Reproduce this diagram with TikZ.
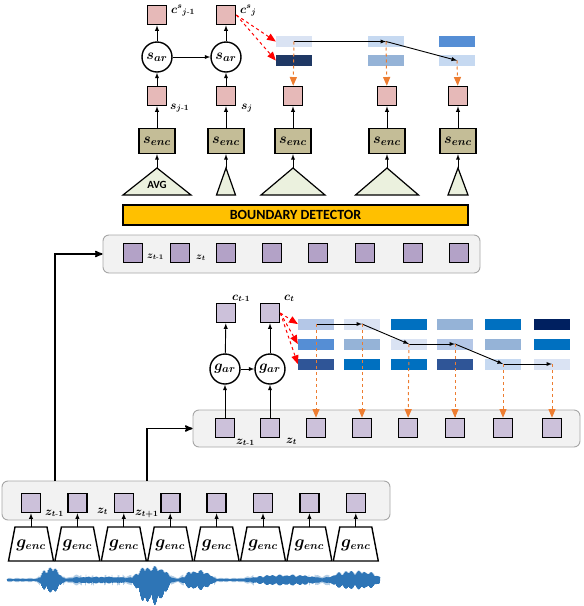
\documentclass[tikz,border=0pt]{standalone}
\usepackage{amsmath}
\usepackage{bm}
\usepackage{fontspec}
\newfontfamily\calfont{Carlito}
\usetikzlibrary{positioning, arrows, shapes.geometric}
\definecolor{rosy}{HTML}{E6B9B8}
\definecolor{lavdark}{HTML}{B3A2C7}
\definecolor{lavlight}{HTML}{CCC1DA}
\definecolor{khaki}{HTML}{C4BD97}
\definecolor{trifill}{HTML}{EBF1DE}
\definecolor{amber}{HTML}{FFC000}
\definecolor{panelgray}{HTML}{F2F2F2}
\definecolor{paneledge}{HTML}{A6A6A6}
\definecolor{dashorange}{HTML}{ED7D31}
\definecolor{wavecol}{HTML}{2E75B6}
\definecolor{bA}{HTML}{DAE3F3} % lightest blue
\definecolor{bB}{HTML}{C6D9F1}
\definecolor{bC}{HTML}{B4C7E7}
\definecolor{bD}{HTML}{95B3D7}
\definecolor{bE}{HTML}{558ED5}
\definecolor{bF}{HTML}{0070C0}
\definecolor{bG}{HTML}{2F5597}
\definecolor{bH}{HTML}{1F3864}
\definecolor{bI}{HTML}{002060} % darkest blue
\tikzset{
sq/.style={draw, line width=1.6pt, minimum size=19pt, inner sep=0pt}, % small state squares
panel/.style={draw=paneledge, fill=panelgray, rounded corners=6pt, line width=0.9pt},
encbox/.style={draw, line width=1.4pt, fill=khaki, minimum width=36pt, minimum height=25pt, inner sep=0pt, font=\fontsize{15}{15}\selectfont},
arnode/.style={circle, draw, line width=1.4pt, fill=white, minimum size=30pt, inner sep=0pt, font=\fontsize{15}{15}\selectfont},
genc/.style={draw, line width=1.4pt, fill=white, line join=miter}, % encoder trapezium
gtext/.style={inner sep=0pt, font=\fontsize{16}{16}\selectfont},
bar/.style={minimum width=36pt, minimum height=11pt, inner sep=0pt},
tri/.style={draw, line width=1.2pt, fill=trifill, line join=miter},
conn/.style={-latex, line width=0.9pt}, % plain connectors
bigarrow/.style={->, >=stealth', line width=1.6pt},
odash/.style={-triangle 45, dashed, draw=dashorange, line width=1pt},
rdash/.style={-triangle 45, dashed, draw=red, line width=1pt},
lbl/.style={inner sep=0pt, anchor=base west, font=\fontsize{12}{12}\selectfont},
declare function={
G(\q,\m,\w)=exp(-1*pow(min(abs((\q-\m)/\w),3),4));
envu(\q)=1+12*G(\q,51,10)+2.5*G(\q,100,28)+13*G(\q,152,17)+9*G(\q,198,14)+4.5*G(\q,285,32)+8.5*G(\q,355,24);
envl(\q)=envu(\q)+11*G(\q,152,14);
jit(\n)=0.5+0.3*abs(sin(\n*13.7))+0.2*abs(cos(\n*7.9));
},
}

\begin{document}
\begin{tikzpicture}[x=1pt, y=-1pt]
\useasboundingbox (0,0) rectangle (584,606);

% segment level
\node[draw, line width=1.2pt, fill=amber, minimum width=345pt, minimum height=20pt, inner sep=0pt,
      font=\calfont\bfseries\fontsize{14}{14}\selectfont] (bd) at (295.5,215) {BOUNDARY DETECTOR};
\foreach \x/\w [count=\i] in {157/68, 226/19, 293/64, 387/63, 458/20} {
  \draw[tri] (\x-\w/2,195) -- (\x,168) coordinate (t\i) -- (\x+\w/2,195) -- cycle;
  \node[encbox] (e\i) at (\x,141) {$\bm{s_{enc}}$};
  \node[sq, fill=rosy] (s\i) at (\x,96) {};
  \draw[conn] (t\i) -- (e\i);
  \draw[conn] (e\i) -- (s\i);
}
\node[font=\calfont\bfseries\fontsize{11}{11}\selectfont] (avg) at (157,185) {AVG};
\node[arnode] (sa1) at (157,57) {$\bm{s_{ar}}$};
\node[arnode] (sa2) at (226,57) {$\bm{s_{ar}}$};
\node[sq, fill=rosy] (cs1) at (157,15) {};
\node[sq, fill=rosy] (cs2) at (226,15) {};
\draw[conn] (s1) -- (sa1);
\draw[conn] (sa1) -- (cs1);
\draw[conn] (s2) -- (sa2);
\draw[conn] (sa2) -- (cs2);
\draw[conn] (sa1) -- (sa2);
\node[lbl] at (171,13) {$\bm{c^{s}{}_{j\text{-}1}}$};
\node[lbl] at (240,13) {$\bm{c^{s}{}_{j}}$};
\node[lbl] at (170,109) {$\bm{s_{j\text{-}1}}$};
\node[lbl] at (241,109) {$\bm{s_{j}}$};

\foreach \x/\ca/\cb [count=\i] in {294/bA/bH, 386/bB/bD, 457/bE/bB} {
  \node[bar, fill=\ca] (ua\i) at (\x,41.5) {};
  \node[bar, fill=\cb] (ub\i) at (\x,60.5) {};
}
\draw[conn] (ua1.center) -- (ua2.center);
\draw[conn] (ua2.center) -- (ub3.center);
\draw[odash] (ua1.center) -- (s3);
\draw[odash] (ua2.center) -- (s4);
\draw[odash] (ub3.center) -- (s5);
\draw[rdash] (cs2.east) -- (ua1.west);
\draw[rdash] (cs2.east) -- (ub1.west);

% upper frame row
\node[panel, minimum width=377pt, minimum height=38pt] (zup) at (291.5,254) {};
\foreach \x [count=\i] in {133,180,226,272,318,365,413,459}
  \node[sq, fill=lavdark] (zu\i) at (\x,253) {};
\node[lbl, font=\fontsize{10}{10}\selectfont] at (147,258) {$\bm{z_{t\text{-}1}}$};
\node[lbl, font=\fontsize{10}{10}\selectfont] at (196,259) {$\bm{z_{t}}$};

% frame level
\node[panel, minimum width=387pt, minimum height=37pt] (zmid) at (386.5,428.5) {};
\foreach \x [count=\i] in {225,270,316,362,408,455,503,552}
  \node[sq, fill=lavlight] (m\i) at (\x,428) {};
\node[arnode] (ga1) at (225,369) {$\bm{g_{ar}}$};
\node[arnode] (ga2) at (270,369) {$\bm{g_{ar}}$};
\node[sq, fill=lavlight] (cm1) at (226,313) {};
\node[sq, fill=lavlight] (cm2) at (270,313) {};
\draw[conn] (m1) -- (ga1);
\draw[conn] (ga1) -- (cm1);
\draw[conn] (m2) -- (ga2);
\draw[conn] (ga2) -- (cm2);
\draw[conn] (ga1) -- (ga2);
\node[lbl] at (232,300) {$\bm{c_{t\text{-}1}}$};
\node[lbl] at (284,300) {$\bm{c_{t}}$};
\node[lbl] at (236,444) {$\bm{z_{t\text{-}1}}$};
\node[lbl] at (286,443) {$\bm{z_{t}}$};

\foreach \x/\ca/\cb/\cc [count=\i] in {316/bC/bE/bG, 362/bA/bD/bF, 409/bF/bA/bF,
                                       455/bD/bC/bG, 503/bF/bD/bB, 552/bI/bF/bA} {
  \node[bar, fill=\ca] (ma\i) at (\x,324) {};
  \node[bar, fill=\cb] (mb\i) at (\x,344) {};
  \node[bar, fill=\cc] (mc\i) at (\x,364) {};
}
\foreach \p/\q in {ma1/ma2, ma2/mb3, mb3/mb4, mb4/mc5, mc5/mc6}
  \draw[conn] (\p.center) -- (\q.center);
\foreach \p [count=\i from 3] in {ma1, ma2, mb3, mb4, mc5, mc6}
  \draw[odash] (\p.center) -- (m\i);
\foreach \p in {ma1, mb1, mc1}
  \draw[rdash] (cm2.east) -- (\p.west);

% encoder level
\node[panel, minimum width=388pt, minimum height=39pt] (zlow) at (196,500.5) {};
\foreach \i in {1,...,8} {
  \pgfmathsetmacro\gx{31+46.4*(\i-1)}
  \node[sq, fill=lavlight] (l\i) at (\gx,503) {};
  \draw[genc] (\gx-16,527) -- (\gx,527) coordinate (gt\i) -- (\gx+16,527) -- (\gx+22.5,561) -- (\gx-22.5,561) -- cycle;
  \node[gtext] (g\i) at (\gx,545) {$\bm{g_{enc}}$};
  \draw[conn] (gt\i) -- (l\i);
}
\node[lbl] at (45,515) {$\bm{z_{t\text{-}1}}$};
\node[lbl] at (97,513) {$\bm{z_{t}}$};
\node[lbl] at (135,515) {$\bm{z_{t+1}}$};

\coordinate (up1) at (55,481);
\coordinate (up2) at (147,481);
\draw[bigarrow] (up1) |- (zup.west);
\draw[bigarrow] (up2) |- (zmid.west);

% raw waveform
\draw[wavecol, line width=0.6pt] plot[domain=0:746, samples=747, variable=\n]
  ({7+\n/2}, {580-(1-mod(round(\n),2))*envu(7+\n/2)*jit(\n)+mod(round(\n),2)*envl(7+\n/2)*jit(\n)});
\end{tikzpicture}
\end{document}
